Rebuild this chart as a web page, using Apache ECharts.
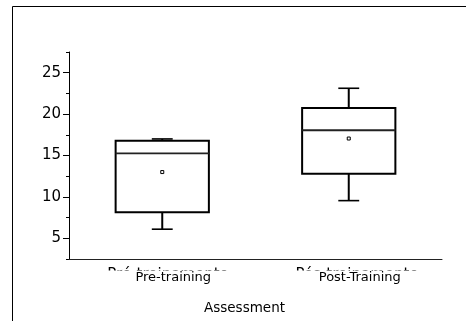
<!DOCTYPE html>
<html>
<head>
<meta charset="utf-8">
<script src="https://cdn.jsdelivr.net/npm/echarts@6/dist/echarts.min.js"></script>
<style>
html,body{margin:0;padding:0;background:#fff;}
#c{width:466px;height:321px;}
</style>
</head>
<body>
<div id="c"></div>
<script>
var categories = ['Pre-training', 'Post-Training'];
var hiddenLabels = ['Pré-treinamento', 'Pós-treinamento'];
var mins = [6.1, 9.55];
var q1s = [8.15, 12.8];
var medians = [15.25, 18.05];
var q3s = [16.78, 20.75];
var maxs = [17.0, 23.12];
var means = [13.0, 17.05];
var majorTicks = [5, 10, 15, 20, 25];
var minorTicks = [2.5, 7.5, 12.5, 17.5, 22.5, 27.5];

var data = categories.map(function (c, i) {
  return [i, mins[i], q1s[i], medians[i], q3s[i], maxs[i], means[i]];
});

function renderItem(params, api) {
  var i = api.value(0);
  var band = api.size([1, 0])[0];
  var half = band * 0.25;
  var capHalf = band * 0.056;
  var pMin = api.coord([i, api.value(1)]);
  var pQ1 = api.coord([i, api.value(2)]);
  var pMed = api.coord([i, api.value(3)]);
  var pQ3 = api.coord([i, api.value(4)]);
  var pMax = api.coord([i, api.value(5)]);
  var pMean = api.coord([i, api.value(6)]);
  var x = pMed[0];
  var black = '#000';
  return {
    type: 'group',
    children: [
      { type: 'line', shape: { x1: x, y1: pQ3[1], x2: x, y2: pMax[1] }, style: { stroke: black, lineWidth: 2 } },
      { type: 'line', shape: { x1: x, y1: pQ1[1], x2: x, y2: pMin[1] }, style: { stroke: black, lineWidth: 2 } },
      { type: 'line', shape: { x1: x - capHalf, y1: pMax[1], x2: x + capHalf, y2: pMax[1] }, style: { stroke: black, lineWidth: 1.6 } },
      { type: 'line', shape: { x1: x - capHalf, y1: pMin[1], x2: x + capHalf, y2: pMin[1] }, style: { stroke: black, lineWidth: 1.6 } },
      { type: 'rect', shape: { x: x - half, y: pQ3[1], width: half * 2, height: pQ1[1] - pQ3[1] }, style: { fill: '#fff', stroke: black, lineWidth: 2 } },
      { type: 'line', shape: { x1: x - half, y1: pMed[1], x2: x + half, y2: pMed[1] }, style: { stroke: '#222', lineWidth: 1.8 } },
      { type: 'rect', shape: { x: pMean[0] - 1.5, y: pMean[1] - 1.5, width: 3, height: 3 }, style: { fill: '#fff', stroke: black, lineWidth: 1 } }
    ]
  };
}

var chart = echarts.init(document.getElementById('c'), null, { renderer: 'canvas' });
var font = 'DejaVu Sans';
var graphics = [
  { type: 'polyline', zlevel: 0, shape: { points: [[12.5, 321], [12.5, 6.5], [466, 6.5]] }, style: { stroke: '#000', lineWidth: 1, fill: null } }
];
var hiddenCenters = [168, 357];
hiddenLabels.forEach(function (t, i) {
  graphics.push({
    type: 'text', zlevel: 0, x: hiddenCenters[i], y: 268,
    style: { text: t, font: '15px "' + font + '"', fill: '#000', align: 'center', verticalAlign: 'top' }
  });
});
graphics.push({ type: 'rect', zlevel: 1, shape: { x: 80, y: 270.5, width: 370, height: 30 }, style: { fill: '#fff' } });

chart.setOption({
  backgroundColor: '#fff',
  animation: false,
  grid: { left: 69, right: 24, top: 52, bottom: 62 },
  graphic: graphics,
  xAxis: {
    type: 'category',
    zlevel: 2,
    data: categories,
    boundaryGap: true,
    axisLine: { lineStyle: { color: '#222', width: 1 } },
    axisTick: { alignWithLabel: true, interval: 0, length: 4, lineStyle: { color: '#222' } },
    axisLabel: { interval: 0, margin: 12, padding: [0, 0, 0, 22], color: '#000', fontFamily: font, fontSize: 13 },
    splitLine: { show: false },
    name: 'Assessment',
    nameLocation: 'middle',
    nameGap: 42,
    nameTextStyle: { color: '#000', fontFamily: font, fontSize: 13.5, padding: [0, 22, 0, 0] }
  },
  yAxis: [
    {
      type: 'value', min: 2.5, max: 27.5, z: 10,
      axisLine: { show: true, lineStyle: { color: '#000', width: 1 } },
      axisTick: { show: true, length: 6, customValues: majorTicks, lineStyle: { color: '#000' } },
      axisLabel: { customValues: majorTicks, margin: 8, color: '#000', fontFamily: font, fontSize: 15 },
      splitLine: { show: false }
    },
    {
      type: 'value', min: 2.5, max: 27.5, position: 'left',
      axisLine: { show: false },
      axisTick: { show: true, length: 3, customValues: minorTicks, lineStyle: { color: '#000' } },
      axisLabel: { show: false },
      splitLine: { show: false }
    }
  ],
  series: [{
    type: 'custom',
    renderItem: renderItem,
    encode: { x: 0, y: [1, 2, 3, 4, 5, 6] },
    data: data,
    z: 5
  }]
});
</script>
</body>
</html>
